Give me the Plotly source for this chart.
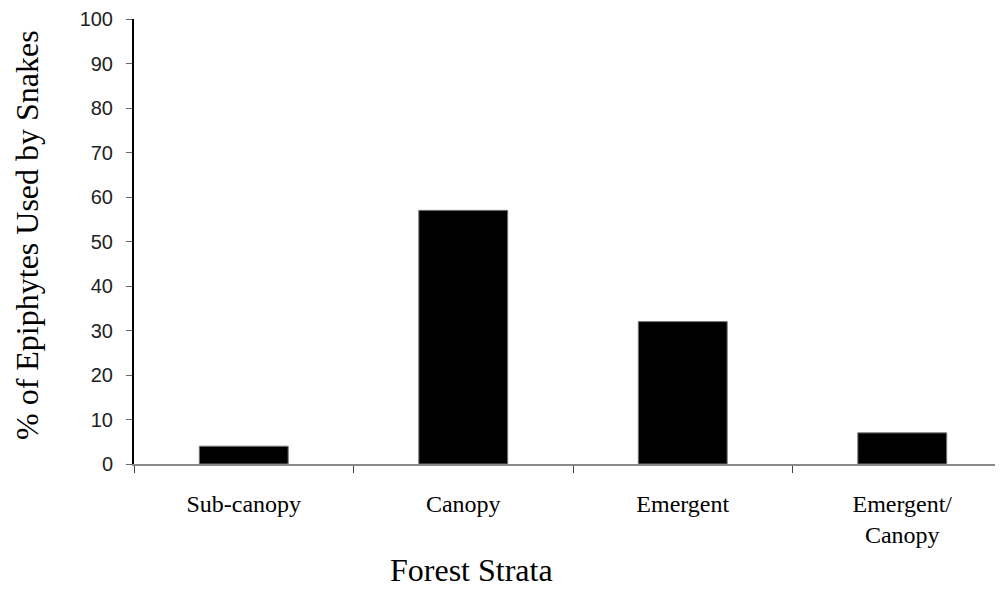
import plotly.graph_objects as go

categories = ["Sub-canopy", "Canopy", "Emergent", "Emergent/<br>Canopy"]
values = [4, 57, 32, 7]
y_ticks = [0, 10, 20, 30, 40, 50, 60, 70, 80, 90, 100]

# page has an 8px body margin; plot area in page px: x 134..1003, y 19..464
PAGE_OFF = 8
L, T, R, B = 134, 19, 1003, 464
FIG_W, FIG_H = 1003 - PAGE_OFF, 589 - PAGE_OFF
PW, PH = R - L, B - T

fig = go.Figure()
fig.add_trace(go.Bar(
    x=categories, y=values, width=0.405,
    marker=dict(color="black", line=dict(color="#777777", width=1)),
))

fig.update_layout(
    width=FIG_W, height=FIG_H,
    margin=dict(l=L - PAGE_OFF, r=FIG_W - (R - PAGE_OFF), t=T - PAGE_OFF, b=FIG_H - (B - PAGE_OFF)),
    paper_bgcolor="white", plot_bgcolor="white",
    showlegend=False,
    xaxis=dict(
        range=[-0.5, -0.5 + PW / 219.5],
        showline=True, linecolor="#8a8a8a", linewidth=2,
        ticks="outside", tickson="boundaries", ticklen=7, tickcolor="#444444", tickwidth=1,
        ticklabelstandoff=17,
        tickfont=dict(family="Liberation Serif", size=24, color="black"),
        showgrid=False, zeroline=False,
    ),
    yaxis=dict(
        range=[0, 100],
        tickvals=y_ticks,
        showline=True, linecolor="black", linewidth=2,
        ticks="outside", ticklen=6, tickcolor="#666666", tickwidth=1,
        ticklabelstandoff=9,
        tickfont=dict(family="Liberation Sans", size=20, color="#222222"),
        showgrid=False, zeroline=False,
    ),
    annotations=[
        dict(text="% of Epiphytes Used by Snakes", xref="paper", yref="paper",
             x=(27 - L) / PW, y=(B - 235) / PH,
             textangle=-90, showarrow=False, xanchor="center", yanchor="middle",
             font=dict(family="Liberation Serif", size=32, color="black")),
        dict(text="Forest Strata", xref="paper", yref="paper",
             x=(471 - L) / PW, y=-(570 - B) / PH,
             showarrow=False, xanchor="center", yanchor="middle",
             font=dict(family="Liberation Serif", size=32, color="black")),
    ],
)

fig.write_html("out.html")
